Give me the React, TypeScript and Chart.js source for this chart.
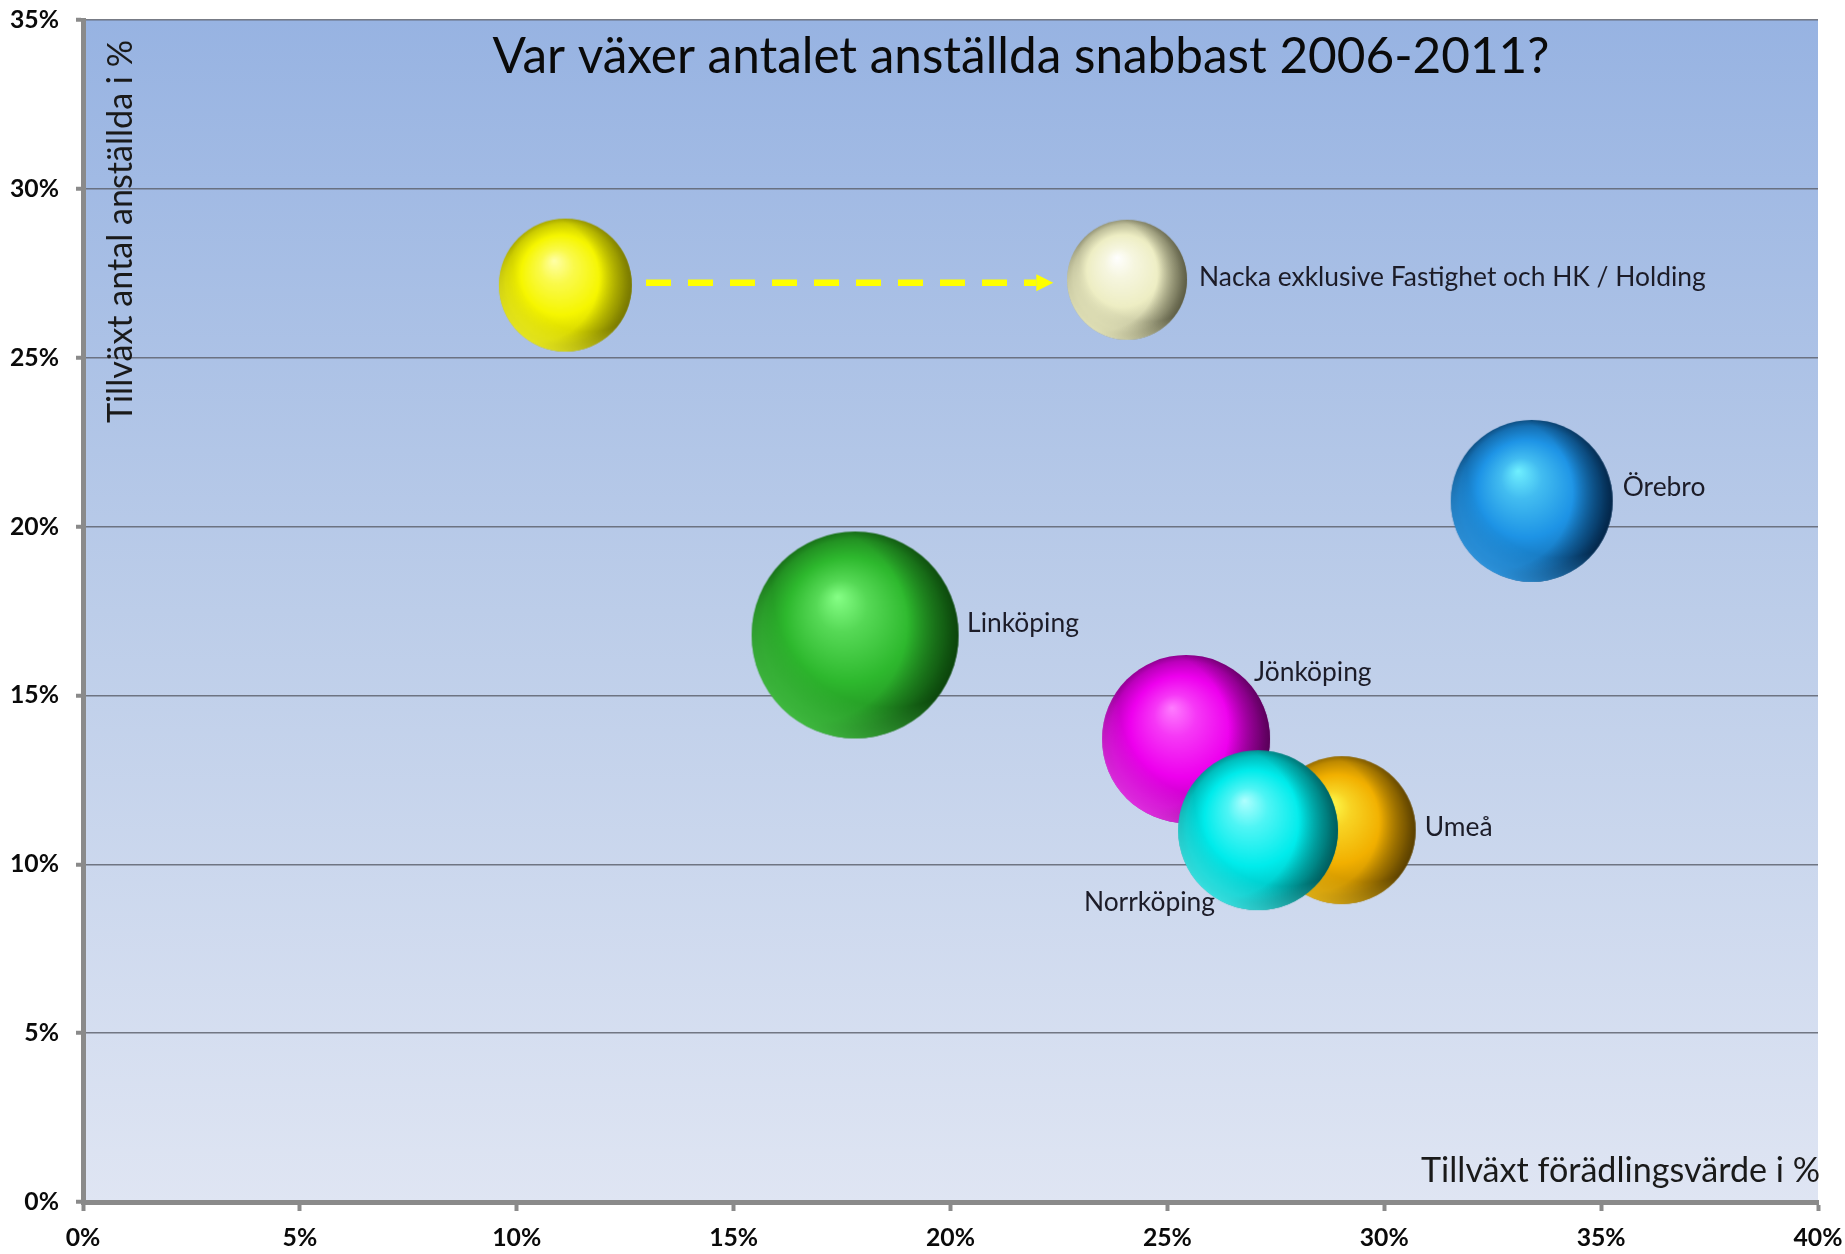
import React, { useEffect, useRef } from "react";
import { Chart, registerables } from "chart.js";

Chart.register(...registerables);

// ---------- data ----------
const BUBBLE_NAMES = [
  "",
  "Nacka exklusive Fastighet och HK / Holding",
  "Örebro",
  "Linköping",
  "Jönköping",
  "Umeå",
  "Norrköping",
];
// Tillväxt förädlingsvärde i % (x)
const VALUE_ADDED_GROWTH = [11.12, 24.07, 33.4, 17.8, 25.43, 29.02, 27.09];
// Tillväxt antal anställda i % (y)
const EMPLOYMENT_GROWTH = [27.15, 27.31, 20.76, 16.79, 13.71, 11.01, 11.01];
// bubble radius
const BUBBLE_SIZE = [66.5, 60, 81, 103.5, 84, 74, 80];

const X_TICKS = [0, 5, 10, 15, 20, 25, 30, 35, 40];
const Y_TICKS = [0, 5, 10, 15, 20, 25, 30, 35];

const TITLE = "Var växer antalet anställda snabbast 2006-2011?";
const X_TITLE = "Tillväxt förädlingsvärde i %";
const Y_TITLE = "Tillväxt antal anställda i %";

// dashed arrow (from first Nacka bubble toward adjusted Nacka)
const ARROW_X = [12.98, 22.37];
const ARROW_Y = [27.22, 27.22];

// ---------- styles ----------
const FONT = "Lato, 'Open Sans', 'DejaVu Sans', sans-serif";

type SphereColor = { hi: string; base: string; dark: string; rim: string };
const SPHERE_COLORS: SphereColor[] = [
  { hi: "#ffffa8", base: "#f6f600", dark: "#6a6a00", rim: "#ffff30" },
  { hi: "#ffffff", base: "#eeeec4", dark: "#4e4e38", rim: "#ffffd0" },
  { hi: "#70f0ff", base: "#1e94e6", dark: "#001a38", rim: "#3aaeff" },
  { hi: "#86ff86", base: "#2eb92e", dark: "#083808", rim: "#50d850" },
  { hi: "#ff7cff", base: "#ee00ee", dark: "#480048", rim: "#ff40ff" },
  { hi: "#ffff50", base: "#f2b000", dark: "#4a3400", rim: "#ffcc20" },
  { hi: "#b0ffff", base: "#00ecec", dark: "#004e4e", rim: "#50ffff" },
];

// label placement: x = cx + edge*r + dx, y = cy + dy (alphabetic baseline)
const LABEL_PLACE = [
  null,
  { edge: 1, dx: 12, dy: 6, align: "left" },
  { edge: 1, dx: 10, dy: -5, align: "left" },
  { edge: 1, dx: 8.5, dy: -3, align: "left" },
  { edge: 0, dx: 68, dy: -58, align: "left" },
  { edge: 1, dx: 9, dy: 6, align: "left" },
  { edge: 0, dx: -43, dy: 81, align: "right" },
];

function hexToRgb(h: string): [number, number, number] {
  const n = parseInt(h.slice(1), 16);
  return [(n >> 16) & 255, (n >> 8) & 255, n & 255];
}
function mix(a: string, b: string, t: number): string {
  const A = hexToRgb(a);
  const B = hexToRgb(b);
  const c = A.map((v, i) => Math.round(v + (B[i] - v) * t));
  return `rgb(${c[0]},${c[1]},${c[2]})`;
}
function rgba(h: string, a: number): string {
  const c = hexToRgb(h);
  return `rgba(${c[0]},${c[1]},${c[2]},${a})`;
}

function makeSphere(r: number, col: SphereColor): HTMLCanvasElement {
  const size = Math.ceil(r * 2) + 2;
  const cv = document.createElement("canvas");
  cv.width = size;
  cv.height = size;
  const g = cv.getContext("2d")!;
  const cx = size / 2;
  const cy = size / 2;
  g.save();
  g.beginPath();
  g.arc(cx, cy, r, 0, Math.PI * 2);
  g.closePath();
  g.clip();
  // base body
  const hx = cx - 0.17 * r;
  const hy = cy - 0.37 * r;
  const body = g.createRadialGradient(hx, hy, 0, cx, cy, r);
  body.addColorStop(0, col.hi);
  body.addColorStop(0.25, mix(col.hi, col.base, 0.55));
  body.addColorStop(0.6, col.base);
  body.addColorStop(0.88, mix(col.base, col.dark, 0.3));
  body.addColorStop(1, mix(col.base, col.dark, 0.55));
  g.fillStyle = body;
  g.fillRect(0, 0, size, size);
  // right side darkening
  const side = g.createRadialGradient(cx - 0.45 * r, cy - 0.1 * r, 0.95 * r, cx - 0.45 * r, cy - 0.1 * r, 1.5 * r);
  side.addColorStop(0, rgba(col.dark, 0));
  side.addColorStop(1, rgba(col.dark, 0.85));
  g.fillStyle = side;
  g.fillRect(0, 0, size, size);
  // bottom-left reflection
  const rc = g.createRadialGradient(cx + 0.35 * r, cy - 0.45 * r, 1.15 * r, cx + 0.35 * r, cy - 0.45 * r, 1.6 * r);
  rc.addColorStop(0, rgba(col.rim, 0));
  rc.addColorStop(1, rgba(col.rim, 0.75));
  g.fillStyle = rc;
  g.fillRect(0, 0, size, size);
  g.restore();
  return cv;
}

function fitSize(text: string, target: number, weight: string): number {
  const c = document.createElement("canvas").getContext("2d")!;
  c.font = `${weight} 100px ${FONT}`;
  const w = c.measureText(text).width;
  return (100 * target) / w;
}

function clearScalePadding(s: any) {
  s.paddingTop = 0;
  s.paddingBottom = 0;
  s.paddingLeft = 0;
  s.paddingRight = 0;
}

export default function App() {
  const ref = useRef<HTMLCanvasElement | null>(null);

  useEffect(() => {
    document.body.style.margin = "0";
    const canvas = ref.current;
    if (!canvas) return;

    const titleSize = fitSize(TITLE, 1057, "normal");
    const axisTitleSize = fitSize(X_TITLE, 399, "normal");
    const labelSize = fitSize(BUBBLE_NAMES[1], 507, "normal");
    const tickSize = fitSize("40%", 49, "bold");

    const spheres = BUBBLE_SIZE.map((r, i) => makeSphere(r, SPHERE_COLORS[i]));

    const data = VALUE_ADDED_GROWTH.map((x, i) => ({
      x,
      y: EMPLOYMENT_GROWTH[i],
      r: BUBBLE_SIZE[i],
    }));

    const backgroundPlugin = {
      id: "plotBg",
      beforeDraw(chart: any) {
        const { ctx, chartArea: a } = chart;
        const grd = ctx.createLinearGradient(0, a.top, 0, a.bottom);
        grd.addColorStop(0, "#97b3e2");
        grd.addColorStop(0.5, "#bccde9");
        grd.addColorStop(1, "#dfe5f3");
        ctx.save();
        ctx.fillStyle = grd;
        ctx.fillRect(a.left, a.top, a.right - a.left, a.bottom - a.top);
        ctx.restore();
      },
    };

    const annotatePlugin = {
      id: "annotate",
      afterDraw(chart: any) {
        const { ctx, chartArea: a, scales } = chart;
        ctx.save();
        // title
        ctx.fillStyle = "#0a0a0a";
        ctx.font = `normal ${titleSize}px ${FONT}`;
        ctx.textAlign = "center";
        ctx.textBaseline = "alphabetic";
        ctx.fillText(TITLE, 1021, 73);

        // axis titles
        ctx.fillStyle = "#1a1a1a";
        ctx.font = `normal ${axisTitleSize}px ${FONT}`;
        ctx.textAlign = "right";
        ctx.fillText(X_TITLE, a.right + 2, 1182);
        ctx.save();
        ctx.translate(132, 231.5);
        ctx.rotate(-Math.PI / 2);
        ctx.textAlign = "center";
        ctx.fillText(Y_TITLE, 0, 0);
        ctx.restore();

        // arrow
        const x1 = scales.x.getPixelForValue(ARROW_X[0]);
        const x2 = scales.x.getPixelForValue(ARROW_X[1]);
        const y1 = scales.y.getPixelForValue(ARROW_Y[0]);
        const y2 = scales.y.getPixelForValue(ARROW_Y[1]);
        const head = 17;
        const ang = Math.atan2(y2 - y1, x2 - x1);
        ctx.strokeStyle = "#ffff00";
        ctx.lineWidth = 6.5;
        ctx.setLineDash([25, 17]);
        ctx.beginPath();
        ctx.moveTo(x1, y1);
        ctx.lineTo(x2 - head * Math.cos(ang), y2 - head * Math.sin(ang));
        ctx.stroke();
        ctx.setLineDash([]);
        ctx.fillStyle = "#ffff00";
        ctx.beginPath();
        ctx.moveTo(x2, y2);
        ctx.lineTo(x2 - head * Math.cos(ang) + 8.5 * Math.sin(ang), y2 - head * Math.sin(ang) - 8.5 * Math.cos(ang));
        ctx.lineTo(x2 - head * Math.cos(ang) - 8.5 * Math.sin(ang), y2 - head * Math.sin(ang) + 8.5 * Math.cos(ang));
        ctx.closePath();
        ctx.fill();

        // bubble labels
        const meta = chart.getDatasetMeta(0);
        ctx.fillStyle = "#1c1c28";
        ctx.font = `normal ${labelSize}px ${FONT}`;
        ctx.textBaseline = "alphabetic";
        meta.data.forEach((el: any, i: number) => {
          const p = LABEL_PLACE[i];
          if (!p || !BUBBLE_NAMES[i]) return;
          const r = BUBBLE_SIZE[i];
          ctx.textAlign = p.align;
          ctx.fillText(BUBBLE_NAMES[i], el.x + p.edge * r + p.dx, el.y + p.dy);
        });
        ctx.restore();
      },
    };

    const axisGray = "#8a8a8a";

    const chart = new Chart(canvas, {
      type: "bubble",
      data: {
        datasets: [
          {
            label: "Kommuner",
            data,
            pointStyle: (c: any) => spheres[c.dataIndex],
            backgroundColor: SPHERE_COLORS.map((s) => s.base),
            borderWidth: 0,
            hoverRadius: 0,
            hoverBorderWidth: 0,
            clip: false,
          } as any,
        ],
      },
      options: {
        responsive: false,
        animation: false,
        devicePixelRatio: 1,
        events: [],
        layout: { autoPadding: false, padding: { top: 20, right: 27, left: 0, bottom: 0 } },
        plugins: {
          legend: { display: false },
          title: { display: false },
          tooltip: { enabled: false },
        },
        scales: {
          x: {
            type: "linear",
            min: X_TICKS[0],
            max: X_TICKS[X_TICKS.length - 1],
            afterBuildTicks: (s: any) => {
              s.ticks = X_TICKS.map((v) => ({ value: v }));
            },
            afterFit: (s: any) => {
              s.height = 52;
              clearScalePadding(s);
            },
            ticks: {
              callback: (v: any) => `${v}%`,
              color: "#0a0a0a",
              font: { family: FONT, size: tickSize, weight: "bold" },
              padding: 12,
              maxRotation: 0,
              autoSkip: false,
            },
            grid: {
              drawOnChartArea: false,
              drawTicks: true,
              tickLength: 9,
              tickColor: axisGray,
              tickWidth: 4,
            },
            border: { display: true, color: axisGray, width: 5 },
          },
          y: {
            type: "linear",
            min: Y_TICKS[0],
            max: Y_TICKS[Y_TICKS.length - 1],
            afterBuildTicks: (s: any) => {
              s.ticks = Y_TICKS.map((v) => ({ value: v }));
            },
            afterFit: (s: any) => {
              s.width = 83;
              clearScalePadding(s);
            },
            ticks: {
              callback: (v: any) => `${v}%`,
              color: "#0a0a0a",
              font: { family: FONT, size: tickSize, weight: "bold" },
              padding: 17,
              autoSkip: false,
            },
            grid: {
              color: "rgba(95,100,112,0.85)",
              lineWidth: 1.5,
              drawTicks: true,
              tickLength: 7,
              tickColor: axisGray,
              tickWidth: 4,
            },
            border: { display: true, color: axisGray, width: 5 },
          },
        },
      } as any,
      plugins: [backgroundPlugin, annotatePlugin],
    });

    return () => chart.destroy();
  }, []);

  return (
    <div style={{ position: "absolute", left: 0, top: 0, width: 1845, height: 1254, background: "#ffffff" }}>
      <canvas ref={ref} width={1845} height={1254} style={{ display: "block", width: 1845, height: 1254 }} />
    </div>
  );
}
